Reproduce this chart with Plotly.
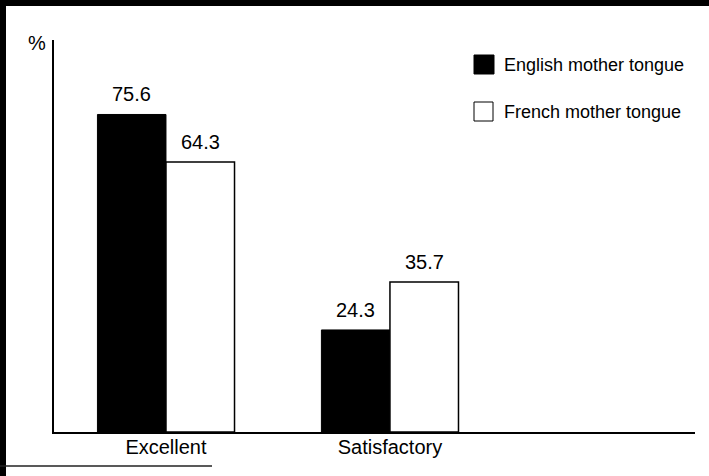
import plotly.graph_objects as go

# ---- data ----
categories = ["Excellent", "Satisfactory"]
english = [75.6, 24.3]
french = [64.3, 35.7]
series_names = ["English mother tongue", "French mother tongue"]
y_unit = "%"

# ---- layout geometry (pixels) ----
W, H = 709, 476
L, R, T, B = 54, 695, 40, 432
FONT = "Liberation Sans, Arial, Helvetica, sans-serif"


def px(x):
    return (x - L) / (R - L)


def py(y):
    return (B - y) / (B - T)


bar_w = 0.306
xpos = list(range(len(categories)))

fig = go.Figure()
fig.add_trace(go.Bar(
    x=xpos, y=english, width=bar_w, offset=-bar_w, name=series_names[0],
    marker=dict(color="black", line=dict(color="black", width=1)),
    showlegend=False,
))
fig.add_trace(go.Bar(
    x=xpos, y=french, width=bar_w, offset=0, name=series_names[1],
    marker=dict(color="white", line=dict(color="black", width=1.5)),
    showlegend=False,
))

annotations = []
for i, (e, f) in enumerate(zip(english, french)):
    annotations.append(dict(x=i - bar_w / 2, y=e, xref="x", yref="y", text=f"{e:.1f}",
                            showarrow=False, yanchor="bottom", yshift=7,
                            font=dict(size=20, color="black", family=FONT)))
    annotations.append(dict(x=i + bar_w / 2, y=f, xref="x", yref="y", text=f"{f:.1f}",
                            showarrow=False, yanchor="bottom", yshift=7,
                            font=dict(size=20, color="black", family=FONT)))

annotations.append(dict(x=px(37), y=py(43), xref="paper", yref="paper", text=y_unit,
                        showarrow=False, xanchor="center", yanchor="middle",
                        font=dict(size=20, color="black", family=FONT)))
annotations.append(dict(x=px(502), y=py(65), xref="paper", yref="paper", text=series_names[0],
                        showarrow=False, xanchor="left", yanchor="middle",
                        font=dict(size=18, color="black", family=FONT)))
annotations.append(dict(x=px(502), y=py(112), xref="paper", yref="paper", text=series_names[1],
                        showarrow=False, xanchor="left", yanchor="middle",
                        font=dict(size=18, color="black", family=FONT)))

shapes = [
    # scanned frame
    dict(type="rect", xref="paper", yref="paper", x0=px(0), x1=px(6), y0=py(H), y1=py(0),
         fillcolor="black", line=dict(width=0)),
    dict(type="rect", xref="paper", yref="paper", x0=px(0), x1=px(W), y0=py(6), y1=py(0),
         fillcolor="black", line=dict(width=0)),
    dict(type="line", xref="paper", yref="paper", x0=px(0), x1=px(212), y0=py(466), y1=py(466),
         line=dict(color="#222", width=1.5)),
    # legend keys
    dict(type="rect", xref="paper", yref="paper", x0=px(474), x1=px(494), y0=py(74), y1=py(55),
         fillcolor="black", line=dict(color="black", width=1)),
    dict(type="rect", xref="paper", yref="paper", x0=px(474), x1=px(493), y0=py(121), y1=py(102),
         fillcolor="white", line=dict(color="black", width=1)),
]

fig.update_layout(
    width=W, height=H,
    margin=dict(l=L, r=W - R, t=T, b=H - B, pad=0),
    paper_bgcolor="white", plot_bgcolor="white",
    barmode="overlay",
    font=dict(family=FONT, color="black"),
    annotations=annotations,
    shapes=shapes,
    xaxis=dict(range=[-0.5, 2.362], tickvals=xpos, ticktext=categories,
               showline=True, linecolor="black", linewidth=2, showgrid=False,
               zeroline=False, ticks="", ticklabelstandoff=-4,
               tickfont=dict(size=20, color="black", family=FONT)),
    yaxis=dict(range=[0, (B - T) / 4.2], showline=True, linecolor="black", linewidth=2,
               showgrid=False, zeroline=False, showticklabels=False, ticks=""),
)

fig.write_html("out.html")
